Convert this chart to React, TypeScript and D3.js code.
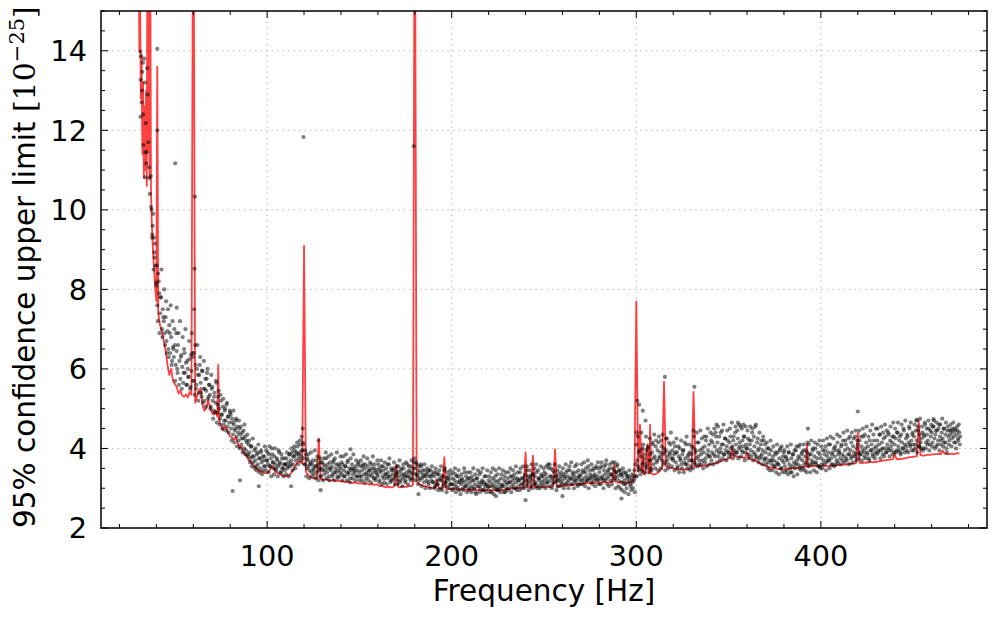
import * as d3 from "d3";

const W = 997;
const H = 617;
const M = { left: 101, right: 987, top: 11, bottom: 528 };

// red upper-limit curve: explicit points below 40 Hz, then one value per Hz
const redEarly: [number, number][] = [
  [29.6, 16], [30.0, 15.5], [30.4, 16], [30.8, 14.0], [31.2, 15.2], [31.6, 12.8],
  [32.0, 13.9], [32.4, 11.4], [32.8, 13.2], [33.2, 10.8], [33.6, 12.6], [34.0, 11.0],
  [34.4, 13.0], [34.8, 10.6], [35.1, 16], [35.5, 11.5], [35.9, 16], [36.3, 10.8],
  [36.7, 16], [37.1, 10.4], [37.5, 9.7], [38.0, 9.1], [38.5, 8.7], [39.0, 8.3], [39.5, 7.95],
];
const redStart = 40;
const redBase = [
  7.7, 7.4, 7.1, 6.95, 6.7, 6.45, 6.1, 5.85, 5.75, 5.7,
  5.62, 5.55, 5.38, 5.45, 5.33, 5.3, 5.36, 5.28, 5.42, 5.35,
  5.25, 5.15, 5.3, 5.45, 5.52, 5.08, 4.95, 5.0, 5.22, 5.05,
  4.9, 4.85, 4.95, 4.8, 4.7, 4.6, 4.45, 4.55, 4.5, 4.38,
  4.3, 4.27, 4.22, 4.28, 4.15, 4.02, 4.05, 3.92, 3.85, 3.8,
  3.7, 3.68, 3.6, 3.55, 3.52, 3.47, 3.43, 3.42, 3.4, 3.38,
  3.38, 3.42, 3.5, 3.56, 3.45, 3.4, 3.37, 3.35, 3.33, 3.32,
  3.3, 3.31, 3.33, 3.38, 3.45, 3.55, 3.62, 3.68, 3.66, 3.62,
  3.5, 3.42, 3.35, 3.3, 3.27, 3.25, 3.26, 3.24, 3.28, 3.23,
  3.22, 3.21, 3.23, 3.2, 3.19, 3.2, 3.22, 3.18, 3.19, 3.18,
  3.17, 3.18, 3.15, 3.16, 3.17, 3.15, 3.13, 3.15, 3.14, 3.12,
  3.12, 3.13, 3.11, 3.1, 3.12, 3.1, 3.09, 3.11, 3.08, 3.1,
  3.08, 3.05, 3.07, 3.04, 3.03, 3.02, 3.04, 3.02, 3.03, 3.05,
  3.04, 3.03, 3.02, 3.04, 3.05, 3.03, 3.04, 3.06, 3.05, 3.08,
  3.25, 3.18, 3.12, 3.09, 3.07, 3.06, 3.05, 3.03, 3.02, 3.01,
  3.0, 3.02, 3.05, 3.0, 2.99, 3.01, 3.0, 2.98, 2.99, 2.98,
  2.98, 2.97, 2.99, 2.97, 2.96, 2.98, 2.97, 2.96, 2.97, 2.96,
  2.97, 2.95, 2.96, 2.97, 2.95, 2.96, 2.94, 2.95, 2.96, 2.95,
  2.95, 2.96, 2.94, 2.95, 2.97, 2.95, 2.94, 2.96, 2.95, 2.97,
  2.98, 2.97, 2.99, 3.0, 2.99, 3.01, 3.0, 3.02, 3.01, 3.03,
  3.04, 3.02, 3.03, 3.01, 3.03, 3.02, 3.04, 3.03, 3.02, 3.04,
  3.02, 3.03, 3.05, 3.03, 3.04, 3.06, 3.05, 3.03, 3.05, 3.06,
  3.05, 3.07, 3.06, 3.08, 3.07, 3.09, 3.08, 3.1, 3.09, 3.11,
  3.1, 3.12, 3.11, 3.14, 3.12, 3.13, 3.15, 3.13, 3.14, 3.12,
  3.13, 3.15, 3.14, 3.16, 3.15, 3.14, 3.16, 3.15, 3.2, 3.16,
  3.15, 3.14, 3.16, 3.15, 3.13, 3.14, 3.14, 3.16, 3.18, 3.25,
  3.5, 3.42, 3.38, 3.4, 3.36, 3.35, 3.4, 3.38, 3.37, 3.35,
  3.35, 3.37, 3.4, 3.45, 3.5, 3.55, 3.56, 3.54, 3.52, 3.51,
  3.5, 3.49, 3.48, 3.47, 3.48, 3.47, 3.46, 3.48, 3.47, 3.49,
  3.5, 3.52, 3.54, 3.55, 3.56, 3.55, 3.57, 3.58, 3.57, 3.59,
  3.6, 3.61, 3.62, 3.63, 3.64, 3.66, 3.68, 3.7, 3.72, 3.73,
  3.75, 3.76, 3.78, 3.79, 3.8, 3.8, 3.79, 3.78, 3.77, 3.76,
  3.76, 3.75, 3.73, 3.72, 3.7, 3.68, 3.66, 3.63, 3.6, 3.58,
  3.56, 3.55, 3.53, 3.52, 3.51, 3.5, 3.49, 3.48, 3.48, 3.47,
  3.47, 3.48, 3.49, 3.5, 3.5, 3.5, 3.51, 3.52, 3.51, 3.52,
  3.53, 3.54, 3.55, 3.54, 3.55, 3.55, 3.56, 3.55, 3.56, 3.55,
  3.55, 3.56, 3.57, 3.56, 3.55, 3.56, 3.57, 3.56, 3.57, 3.58,
  3.58, 3.59, 3.6, 3.59, 3.6, 3.61, 3.62, 3.61, 3.62, 3.63,
  3.65, 3.64, 3.63, 3.64, 3.65, 3.64, 3.65, 3.66, 3.65, 3.66,
  3.66, 3.67, 3.68, 3.69, 3.7, 3.7, 3.71, 3.72, 3.72, 3.73,
  3.74, 3.73, 3.74, 3.73, 3.74, 3.75, 3.76, 3.77, 3.78, 3.78,
  3.79, 3.8, 3.8, 3.82, 3.83, 3.82, 3.82, 3.83, 3.84, 3.84,
  3.85, 3.85, 3.86, 3.86, 3.87, 3.86, 3.88, 3.87, 3.86, 3.86,
  3.86, 3.87, 3.86, 3.87, 3.88, 3.87,
];
// narrow lines: [frequency, peak]
const redSpikes: [number, number][] = [
  [40.5, 13.6], [48, 6.0], [60, 20], [73.5, 6.1], [120, 9.1], [128, 4.25],
  [170, 3.6], [180, 20], [192, 3.2], [196, 3.78], [240, 3.9], [244, 3.82],
  [256, 3.98], [288, 3.6], [300, 7.7], [302, 4.6], [303.5, 4.0], [306, 4.1],
  [307.5, 4.6], [315, 5.68], [331, 5.42], [352, 4.05], [360, 3.9], [392.5, 4.1],
  [420, 4.4], [440, 3.85], [453, 4.7], [466, 3.95],
];

// black points: explicit below 40 Hz, then two interleaved runs, one value per 0.5 Hz each
const dotsEarly: [number, number][] = [
  [31.3, 13.98], [31.6, 13.86], [32.7, 13.7], [33.4, 13.8], [32.4, 13.47], [35, 13.56],
  [31.5, 13.27], [32.2, 13.0], [31.4, 12.34], [32.0, 12.7], [34.3, 12.18], [33.0, 11.63],
  [35.6, 11.7], [34.0, 11.45], [34.9, 11.45], [34.5, 11.17], [36.0, 11.07], [34.0, 10.82],
  [36.1, 10.8], [37.0, 10.85], [37.1, 10.07], [37.4, 10.0], [38.3, 9.9], [37.8, 9.38],
  [37.6, 9.3], [39.2, 9.15], [38.9, 8.93], [39.9, 8.17], [38.5, 8.5], [39.5, 8.6],
  [32.8, 12.4], [35.3, 12.9], [33.8, 13.2], [36.5, 10.4], [38.0, 9.6], [39.0, 8.8], [38.7, 9.3],
];
const dotStep = 0.5;
const dotStartA = 40;
const dotValsA = [
  8.1, 7.6, 8.4, 7.9, 7.4, 7.8, 7.0, 7.5, 7.2, 6.9, 7.3, 6.7, 6.95, 6.5, 7.1, 6.4, 6.8, 6.2, 6.55, 6.3,
  6.6, 6.1, 6.45, 5.9, 6.9, 6.2, 5.75, 6.35, 6.05, 5.65, 6.5, 5.9, 6.15, 5.6, 6.0, 5.8, 6.25, 5.55, 5.95, 6.4,
  6.3, 5.7, 6.6, 5.5, 6.0, 5.85, 5.4, 6.1, 5.65, 5.3, 5.95, 5.5, 5.2, 5.75, 5.45, 5.9, 5.25, 5.6, 5.35, 5.05,
  5.5, 5.2, 4.95, 5.4, 5.15, 5.65, 4.9, 5.3, 5.0, 4.75, 5.2, 4.85, 5.05, 4.6, 4.95, 4.7, 5.1, 4.55, 4.8, 4.65,
  4.9, 4.5, 4.75, 4.35, 4.6, 4.45, 4.7, 4.3, 4.55, 4.2, 4.5, 4.35, 4.1, 4.4, 4.25, 4.0, 4.3, 3.95, 4.15, 3.85,
  4.1, 3.9, 3.75, 4.05, 3.8, 3.65, 3.95, 3.7, 3.55, 3.85, 3.6, 3.75, 3.5, 3.9, 3.65, 3.45, 3.7, 3.8, 3.55, 3.95,
  3.7, 3.6, 3.85, 3.55, 3.75, 4.0, 3.65, 3.5, 3.8, 3.6, 3.45, 3.7, 3.55, 3.9, 3.65, 3.4, 3.75, 3.5, 3.6, 3.45,
  3.6, 3.75, 3.5, 3.65, 3.85, 3.55, 3.7, 3.9, 3.6, 3.8, 3.95, 3.7, 3.85, 4.05, 3.75, 3.9, 4.1, 3.8, 3.95, 4.15,
  3.75, 3.6, 3.85, 3.5, 3.7, 3.55, 3.45, 3.65, 3.4, 3.6, 3.5, 3.35, 3.55, 3.7, 3.4, 3.6, 3.45, 3.3, 3.65, 3.5,
  3.45, 3.6, 3.35, 3.55, 3.75, 3.4, 3.5, 3.3, 3.65, 3.45, 3.55, 3.35, 3.7, 3.4, 3.5, 3.6, 3.3, 3.45, 3.55, 3.4,
  3.5, 3.35, 3.6, 3.45, 3.3, 3.55, 3.4, 3.65, 3.35, 3.5, 3.25, 3.45, 3.6, 3.35, 3.5, 3.4, 3.55, 3.3, 3.45, 3.65,
  3.4, 3.55, 3.3, 3.45, 3.6, 3.35, 3.5, 3.25, 3.4, 3.55, 3.3, 3.45, 3.35, 3.6, 3.3, 3.4, 3.5, 3.25, 3.45, 3.35,
  3.3, 3.5, 3.2, 3.4, 3.55, 3.3, 3.45, 3.15, 3.35, 3.5, 3.25, 3.4, 3.6, 3.3, 3.2, 3.45, 3.35, 3.25, 3.5, 3.3,
  3.4, 3.2, 3.55, 3.3, 3.15, 3.45, 3.35, 3.25, 3.5, 3.3, 3.2, 3.4, 3.6, 3.3, 3.45, 3.25, 3.55, 3.35, 3.4, 3.65,
  3.5, 3.35, 3.6, 3.3, 3.45, 3.2, 3.4, 3.55, 3.25, 3.35, 3.15, 3.45, 3.3, 3.2, 3.4, 3.1, 3.3, 3.45, 3.2, 3.35,
  3.15, 3.3, 3.05, 3.4, 3.2, 3.1, 3.35, 3.25, 3.0, 3.2, 3.3, 3.1, 3.45, 3.15, 3.25, 3.05, 3.3, 3.2, 3.1, 3.35,
  3.1, 3.25, 3.0, 3.2, 3.35, 3.05, 3.15, 3.3, 2.95, 3.2, 3.1, 3.25, 3.0, 3.15, 3.4, 3.05, 3.2, 3.1, 3.25, 2.95,
  3.15, 3.05, 3.3, 3.0, 3.2, 3.1, 2.9, 3.25, 3.05, 3.15, 3.35, 3.0, 3.1, 3.2, 2.95, 3.15, 3.05, 3.3, 3.1, 3.0,
  3.2, 3.05, 3.15, 2.9, 3.25, 3.1, 3.0, 3.3, 3.05, 3.15, 2.95, 3.2, 3.1, 3.0, 3.35, 3.1, 3.05, 3.2, 2.9, 3.15,
  3.1, 3.25, 3.0, 3.15, 3.3, 3.05, 3.2, 3.1, 3.35, 3.0, 3.15, 3.25, 3.05, 3.2, 3.4, 3.1, 3.0, 3.25, 3.15, 3.3,
  3.2, 3.45, 3.1, 3.3, 3.15, 3.25, 3.05, 3.35, 3.2, 3.1, 3.3, 3.15, 3.4, 3.05, 3.25, 3.2, 3.1, 3.35, 3.15, 3.3,
  3.2, 3.1, 3.35, 3.25, 3.15, 3.5, 3.6, 3.2, 3.3, 3.1, 3.25, 3.4, 3.15, 3.3, 3.2, 3.05, 3.35, 3.25, 3.15, 3.3,
  3.2, 3.35, 3.1, 3.25, 3.4, 3.15, 3.3, 3.2, 3.45, 3.1, 3.25, 3.35, 3.2, 3.3, 3.15, 3.4, 3.25, 3.1, 3.3, 3.2,
  3.35, 3.2, 3.45, 3.25, 3.15, 3.4, 3.3, 3.2, 3.55, 3.25, 3.35, 3.15, 3.3, 3.45, 3.2, 3.35, 3.25, 3.5, 3.3, 3.2,
  3.4, 3.25, 3.55, 3.3, 3.2, 3.45, 3.35, 3.6, 3.25, 3.4, 3.3, 3.5, 3.2, 3.35, 3.65, 3.3, 3.45, 3.25, 3.4, 3.55,
  3.3, 3.2, 3.45, 3.35, 3.15, 3.3, 3.4, 3.2, 3.1, 3.35, 3.25, 3.15, 3.3, 3.2, 3.05, 3.25, 3.15, 3.3, 3.45, 3.6,
  4.1, 3.7, 3.55, 3.9, 3.5, 3.8, 3.45, 4.0, 3.65, 3.75, 3.55, 3.95, 3.6, 4.05, 3.7, 3.85, 3.5, 3.9, 4.1, 3.75,
  3.8, 4.05, 3.65, 3.95, 4.15, 3.75, 3.9, 4.2, 3.7, 3.85, 4.0, 3.65, 3.95, 4.25, 3.8, 3.6, 3.9, 4.1, 3.75, 3.95,
  3.7, 3.85, 4.05, 3.65, 3.9, 3.55, 3.8, 4.0, 3.7, 3.6, 3.85, 3.95, 3.65, 3.75, 4.1, 3.6, 3.8, 3.7, 3.9, 3.55,
  3.85, 3.7, 4.0, 3.65, 3.9, 3.75, 4.15, 3.8, 3.6, 3.95, 3.85, 4.25, 3.7, 3.9, 4.05, 3.75, 4.3, 3.85, 3.95, 4.1,
  3.8, 4.2, 3.9, 4.35, 3.85, 4.05, 4.4, 3.95, 4.15, 3.8, 4.3, 4.0, 3.9, 4.45, 4.1, 3.85, 4.25, 3.95, 4.05, 4.2,
  3.9, 4.15, 4.3, 3.85, 4.05, 4.2, 3.95, 4.4, 4.1, 3.9, 4.25, 4.0, 4.15, 4.55, 3.95, 4.2, 4.05, 4.3, 3.9, 4.1,
  4.0, 4.25, 3.85, 4.1, 3.95, 4.2, 4.5, 3.9, 4.05, 4.55, 3.8, 4.15, 3.95, 4.0, 3.75, 4.1, 3.85, 3.95, 4.2, 3.7,
  3.9, 3.75, 4.0, 3.65, 3.85, 3.7, 3.95, 3.6, 3.8, 3.7, 3.55, 3.85, 3.65, 3.9, 3.6, 3.75, 4.0, 3.5, 3.7, 3.8,
  3.65, 3.55, 3.8, 3.45, 3.7, 3.9, 3.6, 3.4, 3.75, 3.55, 3.85, 3.65, 3.5, 3.95, 3.7, 3.6, 4.05, 3.75, 3.55, 3.85,
  3.7, 3.95, 3.6, 3.8, 3.65, 3.9, 3.75, 4.1, 3.6, 3.85, 3.7, 3.95, 3.65, 3.8, 4.0, 3.6, 3.75, 3.9, 3.55, 3.85,
  3.75, 3.6, 3.95, 3.7, 3.85, 4.05, 3.65, 3.8, 3.9, 3.7, 4.1, 3.75, 3.85, 3.6, 4.0, 3.8, 3.95, 3.7, 4.15, 3.85,
  3.9, 3.75, 4.05, 3.85, 4.2, 3.8, 3.95, 4.1, 3.7, 4.0, 4.25, 3.85, 3.95, 4.15, 3.8, 4.05, 3.9, 4.3, 3.85, 4.0,
  4.1, 3.9, 4.2, 3.85, 4.05, 3.95, 4.3, 3.8, 4.0, 4.15, 3.9, 4.05, 3.75, 4.2, 3.95, 4.1, 3.85, 4.35, 4.0, 3.9,
  4.05, 4.2, 3.9, 4.1, 4.35, 3.95, 4.15, 3.85, 4.25, 4.0, 4.3, 3.9, 4.1, 4.4, 3.95, 4.2, 4.05, 4.15, 3.85, 4.3,
  4.1, 4.25, 3.95, 4.4, 4.05, 4.2, 3.9, 4.35, 4.15, 4.0, 4.45, 4.1, 4.25, 3.95, 4.3, 4.15, 4.5, 4.05, 4.2, 4.35,
  4.1, 4.3, 4.0, 4.45, 4.2, 4.55, 4.05, 4.35, 4.15, 4.25, 4.4, 4.0, 4.3, 4.6, 4.15, 4.35, 4.2, 4.5, 4.1, 4.3,
  4.4, 4.15, 4.55, 4.25, 4.35, 4.05, 4.45, 4.2, 4.6, 4.3, 4.1, 4.4, 4.25, 4.5, 4.15, 4.35, 4.0, 4.45, 4.3, 4.2,
  4.35, 4.45, 4.25, 4.4, 4.3, 4.5, 4.15, 4.35, 4.45, 4.2, 4.4, 4.3,
];
const dotStartB = 40.25;
const dotValsB = [
  8.6, 7.2, 8.2, 6.9, 7.8, 8.5, 6.8, 7.3, 8.0, 6.6, 7.7, 6.4, 7.5, 6.3, 6.9, 7.6, 6.1, 7.2, 6.5, 7.0,
  5.7, 6.9, 6.0, 6.6, 5.6, 7.2, 6.3, 5.5, 6.8, 5.9, 6.4, 7.0, 5.6, 6.2, 5.8, 6.7, 5.5, 6.35, 6.9, 5.7,
  6.4, 5.35, 6.1, 5.6, 6.6, 5.2, 5.85, 6.3, 5.4, 5.95, 5.15, 6.2, 5.5, 5.05, 5.75, 6.0, 5.3, 5.6, 5.0, 5.85,
  5.55, 4.75, 5.3, 4.9, 5.7, 4.65, 5.1, 5.45, 4.6, 5.35, 4.85, 4.5, 5.25, 4.7, 5.0, 4.45, 5.15, 4.8, 4.4, 4.95,
  4.85, 4.2, 4.65, 4.95, 4.15, 4.5, 4.75, 4.05, 4.4, 4.7, 4.0, 4.55, 4.25, 3.9, 4.45, 4.6, 3.85, 4.2, 4.35, 3.8,
  4.2, 3.65, 4.05, 3.55, 4.25, 3.8, 3.5, 4.0, 3.45, 3.9, 4.1, 3.4, 3.75, 3.95, 3.35, 3.8, 3.55, 4.05, 3.45, 3.7,
  3.9, 3.4, 4.05, 3.55, 3.3, 3.85, 3.65, 3.35, 4.0, 3.5, 3.75, 3.3, 3.95, 3.6, 3.4, 3.85, 3.5, 3.3, 3.75, 3.6,
  3.35, 3.9, 3.55, 3.3, 3.85, 3.6, 4.0, 3.45, 3.8, 4.05, 3.5, 3.9, 4.15, 3.6, 3.85, 4.2, 3.7, 4.3, 3.95, 4.1,
  3.6, 3.95, 3.3, 3.75, 3.85, 3.25, 3.6, 3.9, 3.3, 3.7, 3.45, 3.95, 3.25, 3.55, 3.8, 3.2, 3.5, 3.75, 3.3, 3.65,
  3.2, 3.75, 3.45, 3.9, 3.25, 3.6, 3.8, 3.2, 3.5, 3.85, 3.3, 3.65, 3.2, 3.75, 3.4, 3.9, 3.25, 3.6, 3.3, 3.8,
  3.65, 3.2, 3.8, 3.3, 3.55, 3.85, 3.2, 3.7, 3.4, 3.15, 3.75, 3.5, 3.25, 3.85, 3.45, 3.2, 3.7, 3.3, 3.6, 3.2,
  3.3, 3.7, 3.2, 3.55, 3.8, 3.15, 3.6, 3.35, 3.75, 3.2, 3.45, 3.65, 3.15, 3.5, 3.8, 3.25, 3.6, 3.2, 3.4, 3.7,
  3.6, 3.15, 3.45, 3.7, 3.1, 3.55, 3.25, 3.65, 3.35, 3.1, 3.6, 3.3, 3.75, 3.15, 3.5, 3.2, 3.45, 3.65, 3.1, 3.35,
  3.55, 3.1, 3.4, 3.7, 3.2, 3.5, 3.05, 3.6, 3.35, 3.15, 3.65, 3.3, 3.1, 3.55, 3.4, 3.2, 3.7, 3.25, 3.5, 3.75,
  3.2, 3.65, 3.35, 3.1, 3.55, 3.25, 3.6, 3.05, 3.45, 3.3, 3.6, 3.0, 3.35, 3.5, 3.15, 3.45, 3.0, 3.3, 3.55, 3.15,
  3.4, 3.0, 3.5, 3.1, 3.35, 2.95, 3.45, 3.2, 3.55, 2.95, 3.3, 3.05, 3.5, 3.15, 2.9, 3.4, 3.25, 3.0, 3.45, 3.1,
  2.95, 3.4, 3.1, 3.5, 2.9, 3.3, 3.0, 3.45, 3.15, 2.85, 3.35, 3.2, 2.95, 3.5, 3.05, 3.3, 2.9, 3.4, 3.0, 3.25,
  3.4, 2.9, 3.2, 3.5, 3.0, 3.35, 2.85, 3.25, 3.45, 3.05, 2.9, 3.4, 3.15, 3.5, 2.95, 3.3, 3.1, 2.9, 3.45, 3.05,
  3.3, 2.9, 3.4, 3.05, 3.5, 2.85, 3.2, 3.45, 2.95, 3.35, 3.0, 3.5, 2.9, 3.25, 3.05, 3.45, 2.9, 3.3, 3.4, 3.0,
  2.95, 3.4, 3.15, 3.5, 2.9, 3.3, 3.45, 3.0, 3.25, 3.55, 2.95, 3.4, 3.2, 2.95, 3.5, 3.25, 3.1, 3.55, 3.0, 3.35,
  3.05, 3.55, 3.2, 2.95, 3.45, 3.3, 3.6, 3.0, 3.35, 3.5, 3.1, 3.6, 3.0, 3.45, 3.25, 3.0, 3.55, 3.3, 3.05, 3.5,
  3.4, 3.0, 3.55, 3.15, 3.6, 3.05, 3.3, 3.5, 3.0, 3.45, 3.15, 3.6, 3.3, 2.95, 3.45, 3.2, 3.55, 3.05, 3.4, 3.1,
  3.5, 3.0, 3.3, 3.6, 3.1, 3.45, 3.0, 3.55, 3.25, 3.65, 3.1, 3.4, 3.0, 3.55, 3.2, 3.6, 3.05, 3.45, 3.3, 3.1,
  3.6, 3.1, 3.4, 3.65, 3.05, 3.5, 3.2, 3.7, 3.0, 3.45, 3.25, 3.6, 3.1, 3.5, 3.3, 3.05, 3.55, 3.2, 3.65, 3.1,
  3.5, 3.1, 3.65, 3.25, 3.0, 3.55, 3.2, 3.7, 3.1, 3.45, 3.05, 3.6, 3.35, 3.1, 3.5, 3.2, 3.65, 3.0, 3.4, 3.6,
  3.05, 3.45, 3.0, 3.35, 2.95, 3.5, 3.1, 2.9, 3.4, 3.0, 3.3, 2.85, 3.45, 3.1, 2.95, 3.35, 3.0, 3.2, 2.9, 3.3,
  3.3, 4.3, 3.45, 3.95, 3.35, 4.4, 3.6, 4.1, 3.4, 3.85, 4.3, 3.5, 4.0, 3.4, 4.25, 3.7, 3.45, 4.15, 3.6, 4.35,
  3.5, 4.2, 3.7, 3.45, 4.3, 3.8, 3.5, 4.05, 4.35, 3.6, 3.9, 3.45, 4.25, 3.7, 3.5, 4.15, 3.85, 4.4, 3.55, 3.75,
  4.15, 3.45, 3.9, 4.25, 3.5, 4.05, 3.4, 3.75, 4.2, 3.5, 3.95, 3.4, 4.15, 3.6, 4.3, 3.5, 3.85, 4.1, 3.45, 3.7,
  4.05, 3.5, 4.3, 3.6, 3.95, 4.4, 3.55, 4.15, 3.7, 4.45, 3.6, 4.0, 3.5, 4.3, 3.65, 4.2, 3.55, 4.5, 3.8, 3.6,
  4.4, 3.7, 4.15, 3.6, 4.5, 3.8, 4.3, 3.65, 4.55, 3.9, 3.7, 4.4, 4.1, 3.75, 4.6, 3.85, 4.25, 3.7, 4.45, 3.9,
  3.8, 4.5, 4.0, 4.65, 3.75, 4.3, 3.85, 4.55, 3.9, 4.45, 3.75, 4.6, 4.05, 3.8, 4.5, 3.9, 4.3, 3.7, 4.55, 4.0,
  4.45, 3.75, 4.2, 4.55, 3.8, 4.4, 3.7, 4.3, 3.85, 4.6, 3.75, 4.25, 3.65, 4.4, 3.8, 4.2, 3.6, 4.3, 3.75, 4.1,
  3.6, 4.15, 3.5, 4.0, 3.45, 4.2, 3.7, 3.45, 4.05, 3.55, 3.9, 3.4, 4.1, 3.6, 3.35, 3.95, 3.5, 4.05, 3.4, 3.9,
  3.95, 3.4, 3.75, 4.05, 3.35, 3.9, 3.5, 4.1, 3.4, 3.85, 3.3, 3.95, 3.6, 4.05, 3.35, 3.8, 3.5, 4.1, 3.45, 3.9,
  3.5, 4.1, 3.45, 3.95, 3.4, 4.15, 3.55, 3.85, 3.4, 4.2, 3.6, 4.0, 3.45, 4.15, 3.65, 3.4, 4.1, 3.55, 4.2, 3.5,
  4.05, 3.5, 4.2, 3.6, 3.95, 3.45, 4.25, 3.7, 4.1, 3.5, 4.3, 3.6, 3.9, 4.25, 3.55, 4.05, 3.6, 4.35, 3.65, 3.95,
  4.3, 3.6, 4.1, 3.7, 4.4, 3.65, 4.2, 3.75, 4.45, 3.85, 3.6, 4.3, 3.75, 4.4, 3.65, 4.25, 3.8, 4.45, 3.7, 4.2,
  3.75, 4.45, 3.85, 4.3, 3.7, 4.5, 3.9, 4.35, 3.75, 4.55, 3.85, 4.3, 3.7, 4.45, 3.95, 4.6, 3.8, 4.2, 3.75, 4.5,
  3.85, 4.5, 3.95, 4.35, 3.75, 4.55, 4.0, 4.4, 3.8, 4.6, 3.9, 4.45, 4.0, 4.35, 3.8, 4.55, 3.95, 4.3, 4.65, 3.9,
  4.5, 3.9, 4.4, 4.65, 3.95, 4.3, 3.85, 4.6, 4.0, 4.5, 3.9, 4.7, 4.05, 4.35, 3.9, 4.55, 4.1, 4.65, 3.95, 4.4,
  3.95, 4.6, 4.1, 4.7, 3.9, 4.45, 4.05, 4.75, 4.0, 4.55, 3.95, 4.35, 4.65, 4.0, 4.5, 4.1, 4.7, 3.95, 4.45, 4.6,
  4.05, 4.55, 4.7, 4.0, 4.45, 4.65, 4.1, 4.5, 3.95, 4.6, 4.2, 4.75, 4.05, 4.5, 4.15, 4.65, 3.9, 4.55, 4.1, 4.45,
  4.6, 4.05, 4.5, 4.65, 4.15, 4.45, 4.0, 4.55, 4.25, 4.6, 4.1,
];
const dotsOutliers: [number, number][] = [
  [40.5, 14.05], [40.5, 12.0], [50.2, 11.17], [60.9, 10.33], [60.7, 8.52], [60.5, 7.5],
  [51, 7.54], [119.7, 11.83], [179.4, 11.6], [81.3, 2.93], [85.3, 3.2], [95.5, 3.05],
  [119.3, 4.5], [127.8, 4.2], [145.2, 3.98], [300.5, 5.2], [301.5, 5.1], [303.5, 4.95],
  [305, 4.7], [300.2, 4.4], [315.5, 5.8], [331.5, 5.55], [331, 4.45], [343.5, 4.6],
  [355, 4.65], [358, 4.6], [393, 4.5], [420, 4.93], [452, 4.72], [461, 4.74],
  [292, 2.74], [113, 3.05], [129, 2.95], [182, 2.85], [240, 2.7], [260, 2.8], [224, 2.8],
];

const xMajor = [100, 200, 300, 400];
const yMajor = [2, 4, 6, 8, 10, 12, 14];
const xMinor = d3.range(20, 490, 20);
const yMinor = d3.range(2, 15.01, 0.5);

export default function App() {
  const x = d3.scaleLinear().domain([10, 490]).range([M.left, M.right]);
  const y = d3.scaleLinear().domain([2, 15]).range([M.bottom, M.top]);

  const spikeF = new Set(redSpikes.map((d) => d[0]));
  const redPts: [number, number][] = [
    ...redEarly,
    ...redBase
      .map((v, i) => [redStart + i, v] as [number, number])
      .filter((d) => !spikeF.has(d[0])),
    ...redSpikes,
  ].sort((a, b) => a[0] - b[0]);
  const redPath = d3
    .line<[number, number]>()
    .x((d) => x(d[0]))
    .y((d) => y(d[1]))(redPts) as string;

  const dots: [number, number][] = [
    ...dotsEarly,
    ...dotValsA.map((v, i) => [dotStartA + i * dotStep, v] as [number, number]),
    ...dotValsB.map((v, i) => [dotStartB + i * dotStep, v] as [number, number]),
    ...dotsOutliers,
  ];

  const font = "DejaVu Sans, sans-serif";

  return (
    <div style={{ position: "absolute", left: 0, top: 0 }}>
      <svg width={W} height={H} style={{ display: "block", background: "#fff" }}>
        <defs>
          <clipPath id="plot">
            <rect x={M.left} y={M.top} width={M.right - M.left} height={M.bottom - M.top} />
          </clipPath>
        </defs>
        {/* grid */}
        <g stroke="#b8b8b8" strokeWidth={1} strokeDasharray="1.5,4">
          {xMajor.map((t) => (
            <line key={"gx" + t} x1={x(t)} x2={x(t)} y1={M.top} y2={M.bottom} />
          ))}
          {yMajor.map((t) => (
            <line key={"gy" + t} x1={M.left} x2={M.right} y1={y(t)} y2={y(t)} />
          ))}
        </g>
        <g clipPath="url(#plot)">
          <path d={redPath} fill="none" stroke="#ff0000" strokeOpacity={0.75} strokeWidth={1.8} strokeLinejoin="round" />
          {dots.map((d, i) => (
            <circle key={i} cx={x(d[0])} cy={y(d[1])} r={2.1} fill="#000" fillOpacity={0.5} />
          ))}
        </g>
        {/* ticks, inward on all sides */}
        <g stroke="#000" strokeWidth={1}>
          {xMinor.map((t) => {
            const len = xMajor.includes(t) ? 7 : 4;
            return (
              <g key={"tx" + t}>
                <line x1={x(t)} x2={x(t)} y1={M.bottom} y2={M.bottom - len} />
                <line x1={x(t)} x2={x(t)} y1={M.top} y2={M.top + len} />
              </g>
            );
          })}
          {yMinor.map((t) => {
            const len = yMajor.includes(t) ? 7 : 4;
            return (
              <g key={"ty" + t}>
                <line x1={M.left} x2={M.left + len} y1={y(t)} y2={y(t)} />
                <line x1={M.right} x2={M.right - len} y1={y(t)} y2={y(t)} />
              </g>
            );
          })}
        </g>
        <rect
          x={M.left}
          y={M.top}
          width={M.right - M.left}
          height={M.bottom - M.top}
          fill="none"
          stroke="#000"
          strokeWidth={1.5}
        />
        {/* tick labels */}
        <g fontFamily={font} fontSize={28.8} fill="#000">
          {xMajor.map((t) => (
            <text key={"lx" + t} x={x(t)} y={566} textAnchor="middle">
              {t}
            </text>
          ))}
          {yMajor.map((t) => (
            <text key={"ly" + t} x={87} y={y(t)} dy="0.36em" textAnchor="end">
              {t}
            </text>
          ))}
        </g>
        <text x={(M.left + M.right) / 2} y={601} textAnchor="middle" fontFamily={font} fontSize={29.5}>
          Frequency [Hz]
        </text>
        <text
          transform="translate(35,528) rotate(-90)"
          textAnchor="start"
          fontFamily={font}
          fontSize={29.5}
        >
          95% confidence upper limit{" "}
          <tspan fontFamily="DejaVu Serif, serif" fontSize={30}>
            [10
            <tspan dy={-11} fontSize={21}>
              −25
            </tspan>
            <tspan dy={11}>]</tspan>
          </tspan>
        </text>
      </svg>
    </div>
  );
}
